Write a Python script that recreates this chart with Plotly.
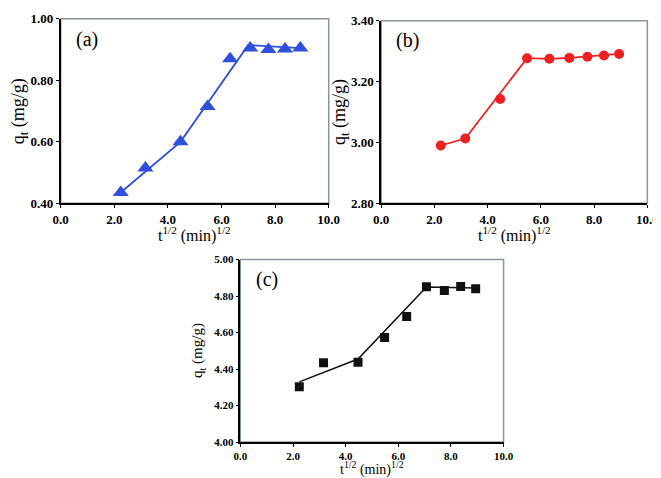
import plotly.graph_objects as go

# sqrt(t) values, same for all three panels
t_sqrt = [2.24, 3.16, 4.47, 5.48, 6.32, 7.07, 7.75, 8.37, 8.94]

qt_a = [0.435, 0.515, 0.600, 0.715, 0.870, 0.905, 0.900, 0.902, 0.905]
qt_b = [2.990, 3.013, 3.143, 3.277, 3.275, 3.278, 3.282, 3.286, 3.291]
qt_c = [4.303, 4.435, 4.437, 4.573, 4.688, 4.851, 4.830, 4.853, 4.840]

# piecewise linear fits (intraparticle diffusion stages)
fit_a_x = [2.24, 4.47, 7.00, 8.94]
fit_a_y = [0.435, 0.600, 0.915, 0.905]
fit_b_x = [2.24, 3.16, 5.48, 6.32, 7.07, 7.75, 8.37, 8.94]
fit_b_y = [2.990, 3.013, 3.277, 3.275, 3.278, 3.282, 3.286, 3.291]
fit_c_x = [2.24, 4.47, 7.07, 8.94]
fit_c_y = [4.330, 4.455, 4.850, 4.845]

x_ticks = [0, 2, 4, 6, 8, 10]
ranges_y = [[0.40, 1.00], [2.80, 3.40], [4.00, 5.00]]
labels = ["(a)", "(b)", "(c)"]

W, H = 661, 478
# pixel boxes of each plot area: left, right, top, bottom
boxes = [(46, 322, 5, 195), (376, 650, 7, 195), (231, 502, 253, 441)]

SERIF = '"Times New Roman", "Liberation Serif", serif'

fig = go.Figure()

panels = [
    (qt_a, fit_a_x, fit_a_y, "#2f4fdc", "triangle-up", 14),
    (qt_b, fit_b_x, fit_b_y, "#f02020", "circle", 10),
    (qt_c, fit_c_x, fit_c_y, "#111111", "square", 9),
]
tick_sizes = [13, 13, 11]
ytitle_sizes = [18, 18, 15]
xtitle_sizes = [16, 16, 14]
ytitle_pos = [-0.155, -0.155, -0.16]
xtitle_pos = [-0.1, -0.1, -0.08]

for i, (qt, fx, fy, col, sym, sz) in enumerate(panels):
    xa = "x" if i == 0 else f"x{i+1}"
    ya = "y" if i == 0 else f"y{i+1}"
    fig.add_trace(go.Scatter(x=fx, y=fy, mode="lines", line=dict(color=col, width=1.8 if i < 2 else 1.5),
                             xaxis=xa, yaxis=ya, showlegend=False, hoverinfo="skip"))
    fig.add_trace(go.Scatter(x=t_sqrt, y=qt, mode="markers",
                             marker=dict(color=col, symbol=sym, size=sz),
                             xaxis=xa, yaxis=ya, showlegend=False))

    l, r, t, b = boxes[i]
    xd = [l / W, r / W]
    yd = [1 - b / H, 1 - t / H]
    key = "" if i == 0 else str(i + 1)
    fig.update_layout({
        f"xaxis{key}": dict(
            domain=xd, range=[0, 10], tickvals=x_ticks,
            ticktext=[f"{v:.1f}" for v in x_ticks],
            showline=True, linecolor="black", linewidth=1.5,
            ticks="outside", ticklen=3, tickcolor="black", showgrid=False, zeroline=False,
            tickfont=dict(family=SERIF, size=tick_sizes[i], color="black", weight="bold"),
            anchor=ya,
        ),
        f"yaxis{key}": dict(
            domain=yd, range=ranges_y[i], dtick=0.2, tickformat=".2f",
            showline=True, linecolor="black", linewidth=1.5,
            ticks="outside", ticklen=3, tickcolor="black", showgrid=False, zeroline=False,
            tickfont=dict(family=SERIF, size=tick_sizes[i], color="black", weight="bold"),
            anchor=xa,
        ),
    })
    # grey frame on top and right
    fig.add_shape(type="rect", xref=f"{xa} domain", yref=f"{ya} domain",
                  x0=0, x1=1, y0=0, y1=1, line=dict(color="#8a9699", width=1.5), layer="below")
    fig.add_annotation(text=labels[i], xref=f"{xa} domain", yref=f"{ya} domain",
                       x=0.05, y=0.89, xanchor="left", yanchor="middle", showarrow=False,
                       font=dict(family=SERIF, size=20, color="black"))
    # axis titles
    fig.add_annotation(text="q<sub>t</sub> (mg/g)", xref=f"{xa} domain", yref=f"{ya} domain",
                       x=ytitle_pos[i], y=0.5, textangle=-90, showarrow=False,
                       xanchor="center", yanchor="middle",
                       font=dict(family=SERIF, size=ytitle_sizes[i], color="black"))
    fig.add_annotation(text="t<sup>1/2</sup> (min)<sup>1/2</sup>", xref=f"{xa} domain", yref=f"{ya} domain",
                       x=0.5, y=xtitle_pos[i], showarrow=False,
                       xanchor="center", yanchor="top",
                       font=dict(family=SERIF, size=xtitle_sizes[i], color="black"))

fig.update_layout(
    width=W, height=H,
    margin=dict(l=0, r=0, t=0, b=0),
    paper_bgcolor="white", plot_bgcolor="white",
)

fig.write_html("out.html")
